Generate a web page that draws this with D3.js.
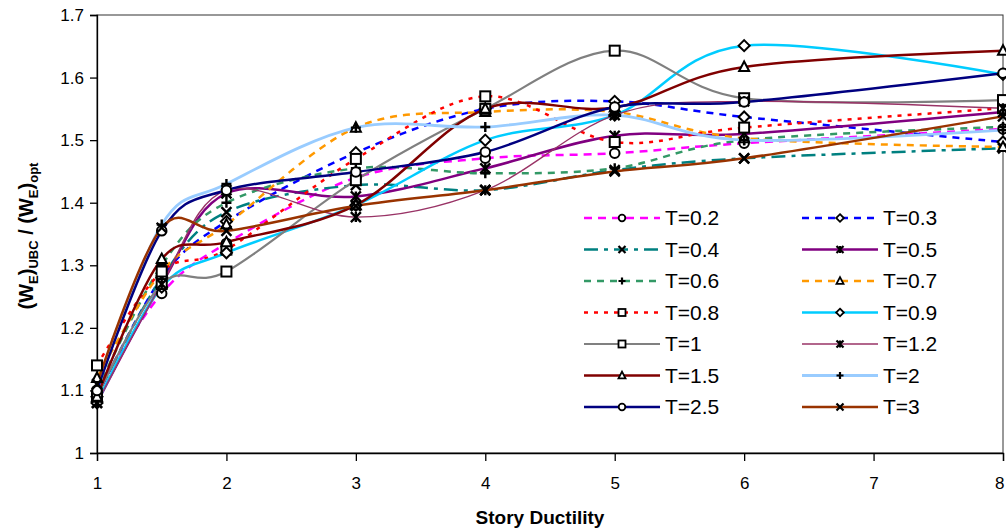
<!DOCTYPE html>
<html><head><meta charset="utf-8">
<script src="https://cdn.jsdelivr.net/npm/d3@7"></script>
<style>body{margin:0;background:#fff;} svg{display:block;font-family:"Liberation Sans",Arial,sans-serif;}</style>
</head><body>
<svg id="c" width="1006" height="531"></svg>
<script>
const xVals = [1, 1.5, 2, 3, 4, 5, 6, 8];
const seriesNames = ["T=0.2","T=0.3","T=0.4","T=0.5","T=0.6","T=0.7","T=0.8","T=0.9","T=1","T=1.2","T=1.5","T=2","T=2.5","T=3"];
const t02 = [1.10, 1.255, 1.335, 1.44, 1.471, 1.479, 1.495, 1.518];
const t03 = [1.09, 1.28, 1.37, 1.48, 1.55, 1.562, 1.537, 1.497];
const t04 = [1.09, 1.28, 1.385, 1.428, 1.42, 1.452, 1.471, 1.487];
const t05 = [1.08, 1.27, 1.415, 1.41, 1.455, 1.507, 1.51, 1.545];
const t06 = [1.10, 1.30, 1.40, 1.455, 1.447, 1.455, 1.50, 1.521];
const t07 = [1.12, 1.29, 1.365, 1.52, 1.545, 1.545, 1.503, 1.489];
const t08 = [1.14, 1.29, 1.325, 1.47, 1.57, 1.497, 1.52, 1.551];
const t09 = [1.08, 1.265, 1.32, 1.396, 1.50, 1.54, 1.651, 1.605];
const t1  = [1.09, 1.27, 1.29, 1.436, 1.55, 1.643, 1.567, 1.564];
const t12 = [1.08, 1.27, 1.42, 1.377, 1.42, 1.54, 1.562, 1.551];
const t15 = [1.09, 1.31, 1.337, 1.396, 1.55, 1.552, 1.617, 1.643];
const t2  = [1.10, 1.365, 1.43, 1.52, 1.521, 1.54, 1.50, 1.516];
const t25 = [1.10, 1.355, 1.42, 1.449, 1.481, 1.553, 1.561, 1.607];
const t3  = [1.11, 1.36, 1.355, 1.395, 1.42, 1.45, 1.471, 1.538];
const seriesValues = [t02,t03,t04,t05,t06,t07,t08,t09,t1,t12,t15,t2,t25,t3];
const xTicks = [1,2,3,4,5,6,7,8];
const yTicks = [1,1.1,1.2,1.3,1.4,1.5,1.6,1.7];
const xTitle = "Story Ductility";

const styles = [
  {c:"#FF00FF", w:2.5, d:"8,6", m:"circle"},
  {c:"#0000FF", w:2.5, d:"7,6", m:"diamond"},
  {c:"#008080", w:2.5, d:"14,6,4,6", m:"x"},
  {c:"#800080", w:2.5, d:null, m:"star"},
  {c:"#339966", w:2.5, d:"7,6", m:"plus"},
  {c:"#FF9900", w:2.5, d:"7,6", m:"triangle"},
  {c:"#FF0000", w:2.5, d:"4,6", m:"square"},
  {c:"#00CCFF", w:2.5, d:null, m:"diamond"},
  {c:"#808080", w:2.2, d:null, m:"square"},
  {c:"#993366", w:1.4, d:null, m:"star"},
  {c:"#800000", w:2.5, d:null, m:"triangle"},
  {c:"#99CCFF", w:2.8, d:null, m:"plus"},
  {c:"#000080", w:2.5, d:null, m:"circle"},
  {c:"#993300", w:2.5, d:null, m:"x"}
];

const svg = d3.select("#c");
const L=97, R=1003, T=15, B=453;
const x = d3.scaleLinear().domain([1,8]).range([L,R]);
const y = d3.scaleLinear().domain([1,1.7]).range([B,T]);

svg.append("rect").attr("x",L).attr("y",T).attr("width",R-L).attr("height",B-T)
  .attr("fill","none").attr("stroke","#333").attr("stroke-width",1);

const xAxis = svg.append("g").attr("transform",`translate(0,${B})`)
  .call(d3.axisBottom(x).tickValues(xTicks).tickSize(8).tickPadding(16).tickFormat(d3.format("d")));
const yAxis = svg.append("g").attr("transform",`translate(${L},0)`)
  .call(d3.axisLeft(y).tickValues(yTicks).tickSize(7).tickPadding(6).tickFormat(d=> d===1?"1":d3.format(".1f")(d)));
[xAxis,yAxis].forEach(g=>{
  g.select(".domain").attr("stroke","#000").attr("stroke-width",1.3);
  g.selectAll(".tick line").attr("stroke","#000").attr("stroke-width",1.3);
  g.selectAll(".tick text").attr("font-size",17).attr("fill","#000").attr("font-family","Liberation Sans, Arial, sans-serif");
});
// keep the last x label inside the page
xAxis.selectAll(".tick text").filter(d=>d===8).attr("text-anchor","end").attr("dx",1);

svg.append("text").attr("x",(L+R)/2 - 10).attr("y",524).attr("text-anchor","middle")
  .attr("font-size",19).attr("font-weight","bold").text(xTitle);

const yt = svg.append("text").attr("transform","translate(33,236) rotate(-90)")
  .attr("text-anchor","middle").attr("font-size",20).attr("font-weight","bold");
yt.append("tspan").text("(W");
yt.append("tspan").attr("font-size",13).attr("dy",5).text("E");
yt.append("tspan").attr("dy",-5).text(")");
yt.append("tspan").attr("font-size",13).attr("dy",5).text("UBC");
yt.append("tspan").attr("dy",-5).text(" /  (W");
yt.append("tspan").attr("font-size",13).attr("dy",5).text("E");
yt.append("tspan").attr("dy",-5).text(")");
yt.append("tspan").attr("font-size",13).attr("dy",5).text("opt");

const line = d3.line().x(d=>x(d[0])).y(d=>y(d[1])).curve(d3.curveCardinal.tension(0));

const plot = svg.append("g");
seriesValues.forEach((vals,i)=>{
  const s = styles[i];
  plot.append("path").datum(xVals.map((xv,j)=>[xv,vals[j]]))
    .attr("d",line).attr("fill","none").attr("stroke",s.c).attr("stroke-width",s.w)
    .attr("stroke-dasharray",s.d).attr("stroke-linejoin","round");
});

function marker(g, type, cx, cy, sz, sw){
  const h = sz/2;
  let el;
  const open = (type==="x"||type==="plus"||type==="star");
  if(type==="circle"){ el=g.append("circle").attr("cx",cx).attr("cy",cy).attr("r",h*0.95); }
  else if(type==="square"){ el=g.append("rect").attr("x",cx-h).attr("y",cy-h).attr("width",sz).attr("height",sz); }
  else if(type==="diamond"){ el=g.append("path").attr("d",`M${cx},${cy-h*1.1}L${cx+h*1.1},${cy}L${cx},${cy+h*1.1}L${cx-h*1.1},${cy}Z`); }
  else if(type==="triangle"){ el=g.append("path").attr("d",`M${cx},${cy-h*1.1}L${cx+h},${cy+h*0.8}L${cx-h},${cy+h*0.8}Z`); }
  else if(type==="x"){ el=g.append("path").attr("d",`M${cx-h},${cy-h}L${cx+h},${cy+h}M${cx-h},${cy+h}L${cx+h},${cy-h}`); }
  else if(type==="plus"){ el=g.append("path").attr("d",`M${cx-h},${cy}L${cx+h},${cy}M${cx},${cy-h}L${cx},${cy+h}`); }
  else if(type==="star"){ el=g.append("path").attr("d",`M${cx-h},${cy-h}L${cx+h},${cy+h}M${cx-h},${cy+h}L${cx+h},${cy-h}M${cx},${cy-h}L${cx},${cy+h}`); }
  el.attr("stroke","#000").attr("stroke-width", open ? sw+0.4 : sw).attr("fill", open ? "none" : "#fff");
}

seriesValues.forEach((vals,i)=>{
  const s = styles[i];
  const g = plot.append("g");
  xVals.forEach((xv,j)=>marker(g, s.m, x(xv), y(vals[j]), 10, 2));
});

const leg = svg.append("g");
seriesNames.forEach((name,i)=>{
  const s = styles[i];
  const col = i%2, row = Math.floor(i/2);
  const x0 = col===0 ? 584 : 802;
  const yy = 218 + row*31.5;
  const g = leg.append("g");
  g.append("line").attr("x1",x0).attr("x2",x0+76).attr("y1",yy).attr("y2",yy)
    .attr("stroke",s.c).attr("stroke-width",s.w).attr("stroke-dasharray",s.d);
  marker(g, s.m, x0+38, yy, 7, 1.8);
  g.append("text").attr("x",x0+81).attr("y",yy+7).attr("font-size",21).attr("fill","#000").text(name);
});
</script>
</body></html>
